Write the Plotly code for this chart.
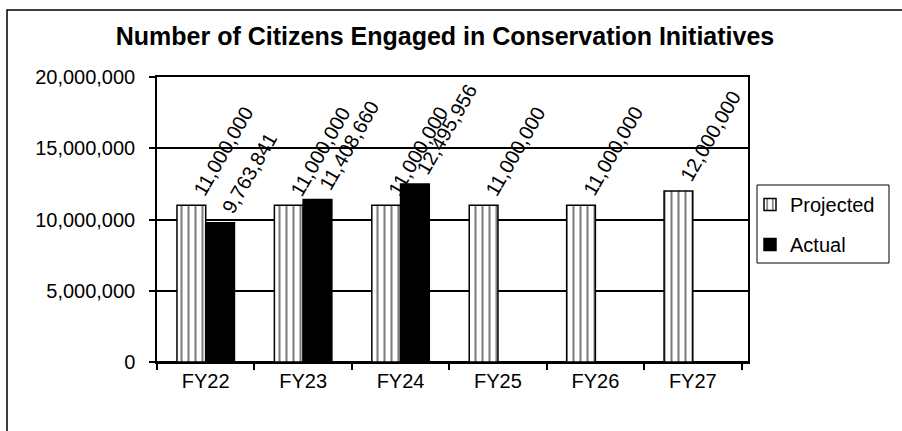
import plotly.graph_objects as go

categories = ["FY22", "FY23", "FY24", "FY25", "FY26", "FY27"]
projected = [11000000, 11000000, 11000000, 11000000, 11000000, 12000000]
actual = [9763841, 11408660, 12495956, None, None, None]
y_ticks = [0, 5000000, 10000000, 15000000, 20000000]
title_text = "Number of Citizens Engaged in Conservation Initiatives"

FONT = "Liberation Sans, Arial, sans-serif"
W, H = 902, 431
L, R, T, B = 157, 154, 77, 69
PW, PH = W - L - R, H - T - B


def px_x(x):
    return (x - L) / PW


def px_y(y):
    return (H - B - y) / PH


fig = go.Figure()
fig.add_trace(go.Bar(
    name="Projected", x=categories, y=projected,
    marker=dict(color="white", line=dict(color="black", width=1.5),
                pattern=dict(shape="|", fgcolor="black", bgcolor="white",
                             size=7, solidity=0.3)),
    legendgroup="p",
))
fig.add_trace(go.Bar(
    name="Actual", x=categories, y=actual,
    marker=dict(color="black", line=dict(color="black", width=1.5)),
    legendgroup="a",
))

half = 0.147
for i, v in enumerate(projected):
    if v is not None:
        fig.add_annotation(x=i - half, y=v, text=f"{v:,}", textangle=-60,
                           xanchor="left", yanchor="bottom", showarrow=False,
                           xshift=-5, yshift=3,
                           font=dict(family=FONT, size=20, color="black"))
for i, v in enumerate(actual):
    if v is not None:
        fig.add_annotation(x=i + half, y=v, text=f"{v:,}", textangle=-60,
                           xanchor="left", yanchor="bottom", showarrow=False,
                           xshift=-5, yshift=3,
                           font=dict(family=FONT, size=20, color="black"))

# outer chart border
fig.add_shape(type="rect", xref="paper", yref="paper",
              x0=px_x(7), x1=px_x(960), y0=px_y(10), y1=px_y(480),
              line=dict(color="black", width=1.5), layer="below")
# legend border
fig.add_shape(type="rect", xref="paper", yref="paper",
              x0=px_x(757), x1=px_x(889), y0=px_y(185), y1=px_y(263),
              line=dict(color="black", width=1), layer="below")

fig.update_layout(
    width=W, height=H, autosize=False,
    margin=dict(l=L, r=R, t=T, b=B),
    paper_bgcolor="white", plot_bgcolor="white",
    barmode="group", bargap=0.41, bargroupgap=0,
    title=dict(text=f"<b>{title_text}</b>", x=445 / W, xanchor="center",
               y=1 - 36.5 / H, yanchor="middle", yref="container",
               font=dict(family=FONT, size=25, color="black")),
    font=dict(family=FONT, size=20, color="black"),
    legend=dict(x=px_x(750), y=px_y(185), xanchor="left", yanchor="top",
                bgcolor="rgba(0,0,0,0)", borderwidth=0,
                font=dict(family=FONT, size=20, color="black"),
                traceorder="grouped", tracegroupgap=11, itemwidth=30),
    xaxis=dict(showline=True, linecolor="black", linewidth=1.5, mirror=True,
               ticks="outside", tickson="boundaries", ticklen=6,
               tickcolor="black", tickwidth=1.5,
               tickfont=dict(family=FONT, size=20, color="black")),
    yaxis=dict(range=[0, 20000000], tickvals=y_ticks, tickformat=",",
               showline=True, linecolor="black", linewidth=1.5, mirror=True,
               showgrid=True, gridcolor="black", gridwidth=1.5,
               zeroline=True, zerolinecolor="black", zerolinewidth=1.5,
               ticks="outside", ticklen=6, tickcolor="black", tickwidth=1.5,
               ticklabelstandoff=10,
               tickfont=dict(family=FONT, size=20, color="black")),
)

fig.write_html("out.html", config={"displayModeBar": False},
               post_script="document.body.style.margin='0';"
                           "document.body.style.overflow='hidden';")
